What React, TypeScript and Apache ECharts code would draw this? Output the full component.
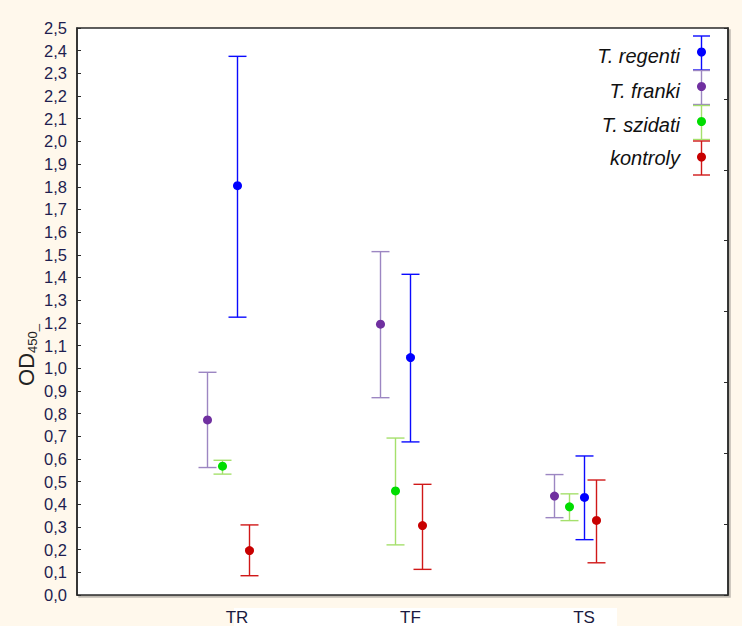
import React, { useEffect, useRef } from "react";
import * as echarts from "echarts";

// Categories on the x axis
const categories = ["TR", "TF", "TS"];

// Series (legend order)
const seriesNames = ["T. regenti", "T. franki", "T. szidati", "kontroly"];

// Means and error-bar limits, one value per category (TR, TF, TS)
const regentiMean = [1.805, 1.047, 0.43];
const regentiLow = [1.225, 0.675, 0.244];
const regentiHigh = [2.375, 1.414, 0.613];

const frankiMean = [0.772, 1.194, 0.436];
const frankiLow = [0.562, 0.87, 0.341];
const frankiHigh = [0.982, 1.514, 0.531];

const szidatiMean = [0.568, 0.459, 0.389];
const szidatiLow = [0.533, 0.221, 0.328];
const szidatiHigh = [0.594, 0.692, 0.446];

const kontrolyMean = [0.196, 0.306, 0.329];
const kontrolyLow = [0.085, 0.113, 0.142];
const kontrolyHigh = [0.309, 0.488, 0.507];

// Y-axis ticks
const yMin = 0;
const yMax = 2.5;
const yStep = 0.1;

const FONT = "'Liberation Sans', Arial, Helvetica, sans-serif";

export default function App() {
  const ref = useRef<HTMLDivElement | null>(null);

  useEffect(() => {
    if (!ref.current) return;
    const chart = echarts.init(ref.current, null, { renderer: "svg" });

    const groups = [
      { name: seriesNames[0], mean: regentiMean, low: regentiLow, high: regentiHigh, dot: "#0000ff", bar: "#0a0aff", offset: 0 },
      { name: seriesNames[1], mean: frankiMean, low: frankiLow, high: frankiHigh, dot: "#7030a0", bar: "#9c86c2", offset: -30 },
      { name: seriesNames[2], mean: szidatiMean, low: szidatiLow, high: szidatiHigh, dot: "#00dd00", bar: "#a5e06c", offset: -15 },
      { name: seriesNames[3], mean: kontrolyMean, low: kontrolyLow, high: kontrolyHigh, dot: "#c80000", bar: "#d01818", offset: 12 },
    ];

    const drawOrder = [1, 2, 0, 3];

    const series = drawOrder.map((gi) => {
      const g = groups[gi];
      return {
        type: "custom",
        name: g.name,
        data: categories.map((_, i) => [i + 1, g.mean[i], g.low[i], g.high[i]]),
        encode: { x: 0, y: 1 },
        renderItem: (params: any, api: any) => {
          const x = api.value(0);
          const pm = api.coord([x, api.value(1)]);
          const pl = api.coord([x, api.value(2)]);
          const ph = api.coord([x, api.value(3)]);
          const cx = Math.round(pm[0] + g.offset) + 0.5;
          const lw = 1.4;
          const hw = 9;
          return {
            type: "group",
            children: [
              { type: "line", shape: { x1: cx, y1: ph[1], x2: cx, y2: pl[1] }, style: { stroke: g.bar, lineWidth: lw } },
              { type: "line", shape: { x1: cx - hw, y1: ph[1], x2: cx + hw, y2: ph[1] }, style: { stroke: g.bar, lineWidth: lw } },
              { type: "line", shape: { x1: cx - hw, y1: pl[1], x2: cx + hw, y2: pl[1] }, style: { stroke: g.bar, lineWidth: lw } },
              { type: "circle", shape: { cx: cx, cy: pm[1], r: 4.5 }, style: { fill: g.dot } },
            ],
          };
        },
      };
    });

    // Legend drawn as graphic (error-bar symbol + italic label)
    const legendElems: any[] = [];
    const legendCenters = [53, 87.5, 122.5, 158];
    const legendTextY = [56, 90.5, 125, 158];
    const lx = 701.5;
    groups.forEach((g, i) => {
      const c = legendCenters[i];
      legendElems.push(
        { type: "line", shape: { x1: lx, y1: c - 17, x2: lx, y2: c + 17 }, style: { stroke: g.bar, lineWidth: 1.4 } },
        { type: "line", shape: { x1: lx - 8.5, y1: c - 17, x2: lx + 8.5, y2: c - 17 }, style: { stroke: g.bar, lineWidth: 1.4 } },
        { type: "line", shape: { x1: lx - 8.5, y1: c + 17, x2: lx + 8.5, y2: c + 17 }, style: { stroke: g.bar, lineWidth: 1.4 } },
        { type: "circle", shape: { cx: lx, cy: c - 1, r: 4.5 }, style: { fill: g.dot } },
        {
          type: "text",
          x: 680,
          y: legendTextY[i],
          style: {
            text: g.name,
            fontFamily: FONT,
            fontStyle: "italic",
            fontSize: 20,
            fill: "#111111",
            align: "right",
            verticalAlign: "middle",
          },
        }
      );
    });

    const option: any = {
      animation: false,
      backgroundColor: "#fff8ec",
      grid: {
        left: 77,
        top: 28,
        right: 14,
        bottom: 28,
        show: true,
        backgroundColor: "#ffffff",
        borderColor: "#2a2a2a",
        borderWidth: 1.5,
        shadowColor: "rgba(0,0,0,0.25)",
        shadowOffsetX: 2,
        shadowOffsetY: 2,
        shadowBlur: 0,
      },
      xAxis: {
        type: "value",
        min: 0.078,
        max: 3.83,
        axisLine: { show: false },
        axisTick: { show: false },
        splitLine: { show: false },
        axisLabel: {
          customValues: [1, 2, 3],
          formatter: (v: number) => categories[Math.round(v) - 1] ?? "",
          fontFamily: FONT,
          fontSize: 17,
          color: "#1a1a40",
          margin: 14,
        },
      },
      yAxis: [
        {
          type: "value",
          min: yMin,
          max: yMax,
          interval: yStep,
          position: "left",
          axisLine: { show: true, lineStyle: { color: "#2a2a2a", width: 1.5 } },
          axisTick: { show: true, inside: true, length: 4, lineStyle: { color: "#2a2a2a", width: 1 } },
          splitLine: { show: false },
          axisLabel: {
            formatter: (v: number) => v.toFixed(1).replace(".", ","),
            fontFamily: FONT,
            fontSize: 16.5,
            color: "#1e1e50",
            margin: 10,
          },
        },
        {
          type: "value",
          min: 0,
          max: 8,
          interval: 1,
          position: "right",
          axisLine: { show: true, lineStyle: { color: "#2a2a2a", width: 1.5 } },
          axisTick: { show: true, inside: true, length: 4, lineStyle: { color: "#2a2a2a", width: 1 } },
          splitLine: { show: false },
          axisLabel: { show: false },
        },
      ],
      graphic: [
        { type: "rect", z: -10, shape: { x: 234, y: 608, width: 383, height: 18 }, style: { fill: "#ffffff" }, silent: true },
        {
          type: "text",
          x: 25,
          y: 355,
          rotation: Math.PI / 2,
          style: {
            text: "{a|OD}{b|450_}",
            align: "center",
            verticalAlign: "middle",
            rich: {
              a: { fontFamily: FONT, fontSize: 22, fill: "#222222", lineHeight: 24, verticalAlign: "bottom" },
              b: { fontFamily: FONT, fontSize: 13, fill: "#222222", lineHeight: 24, verticalAlign: "bottom", padding: [0, 0, -2, 0] },
            },
          },
        },
        ...legendElems,
      ],
      series,
    };

    chart.setOption(option);
    return () => chart.dispose();
  }, []);

  return (
    <div
      ref={ref}
      style={{ position: "absolute", left: 0, top: 0, width: 742, height: 626 }}
    />
  );
}
